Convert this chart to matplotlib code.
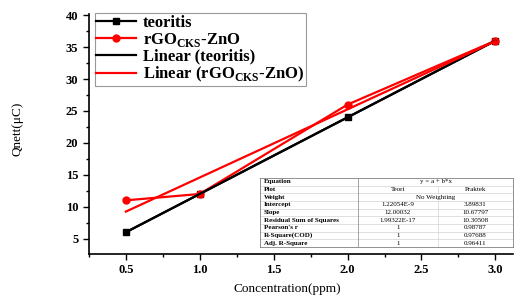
import numpy as np
import matplotlib.pyplot as plt
from matplotlib.ticker import MultipleLocator

plt.rcParams['font.family'] = ['Liberation Serif', 'DejaVu Serif']
plt.rcParams['mathtext.fontset'] = 'custom'
plt.rcParams['mathtext.rm'] = 'Liberation Serif:bold'
plt.rcParams['mathtext.bf'] = 'Liberation Serif:bold'

conc = np.array([0.5, 1.0, 2.0, 3.0])
teori = np.array([6, 12, 24, 36])
praktek = np.array([11, 12, 26, 36])

rows = ["Equation", "Plot", "Weight", "Intercept", "Slope",
        "Residual Sum of Squares", "Pearson's r", "R-Square(COD)", "Adj. R-Square"]
col_teori = ["1.22054E-9", "12.00032", "1.99322E-17", "1", "1", "1"]
col_praktek = ["3.89831", "10.67797", "10.30508", "0.98787", "0.97688", "0.96411"]

fig = plt.figure(figsize=(5.29, 3.02), dpi=100)
ax = fig.add_axes([0.168, 0.159, 0.802, 0.795])

# linear fits
b1, a1 = np.polyfit(conc, teori, 1)
b2, a2 = np.polyfit(conc, praktek, 1)
xf = np.array([conc.min(), conc.max()])

ax.plot(conc, teori, '-s', color='black', lw=1.6, ms=4.5, label='teoritis')
ax.plot(conc, praktek, '-o', color='red', lw=1.6, ms=5, label=r'rGO$_{\mathbf{CKS}}$-ZnO')
ax.plot(xf, a1 + b1 * xf, '-', color='black', lw=1.6, label='Linear (teoritis)')
ax.plot(xf, a2 + b2 * xf, '-', color='red', lw=1.6, label=r'Linear (rGO$_{\mathbf{CKS}}$-ZnO)')

ax.set_xlim(0.25, 3.12)
ax.set_ylim(2.6, 40.2)
ax.xaxis.set_major_locator(MultipleLocator(0.5))
ax.xaxis.set_minor_locator(MultipleLocator(0.25))
ax.yaxis.set_minor_locator(MultipleLocator(2.5))
ax.set_yticks([5, 10, 15, 20, 25, 30, 35, 40])
ax.spines['top'].set_visible(False)
ax.spines['right'].set_visible(False)
for s in ['left', 'bottom']:
    ax.spines[s].set_linewidth(1.2)
ax.tick_params(which='both', direction='out', width=1, labelsize=9)
ax.tick_params(which='major', length=4)
ax.tick_params(which='minor', length=2)
for lab in ax.get_xticklabels() + ax.get_yticklabels():
    lab.set_fontweight('bold')

ax.set_xlabel('Concentration(ppm)', fontsize=9.5)
ax.xaxis.set_label_coords(0.467, -0.12)
ax.set_ylabel('Qnett(μC)', fontsize=9.5)
ax.yaxis.set_label_coords(-0.155, 0.52)

leg = ax.legend(loc='upper left', bbox_to_anchor=(0.01, 1.01), fancybox=False,
                edgecolor='gray', prop={'weight': 'bold', 'size': 12},
                handlelength=2.4, labelspacing=0.0, borderpad=0.1,
                handletextpad=0.4, borderaxespad=0.1)
leg.get_frame().set_linewidth(0.8)

# fit result table
tab = fig.add_axes([260 / 529, 1 - 247 / 302, 253 / 529, 69 / 302])
tab.set_xlim(0, 1)
tab.set_ylim(0, 9)
tab.invert_yaxis()
tab.set_xticks([])
tab.set_yticks([])
for s in tab.spines.values():
    s.set_color('gray')
    s.set_linewidth(0.6)
c1, c2 = 98 / 253, 178 / 253
for i in range(1, 9):
    tab.axhline(i, color='lightgray', lw=0.5)
tab.plot([c1, c1], [0, 9], color='gray', lw=0.5)
tab.plot([c2, c2], [1, 2], color='lightgray', lw=0.5)
tab.plot([c2, c2], [3, 9], color='lightgray', lw=0.5)
fs = 5
for i, r in enumerate(rows):
    tab.text(0.015, i + 0.5, r, fontsize=fs, va='center', ha='left', fontweight='bold')
tab.text((c1 + 1) / 2, 0.5, 'y = a + b*x', fontsize=fs, va='center', ha='center')
tab.text((c1 + c2) / 2, 1.5, 'Teori', fontsize=fs, va='center', ha='center')
tab.text((c2 + 1) / 2, 1.5, 'Praktek', fontsize=fs, va='center', ha='center')
tab.text((c1 + 1) / 2, 2.5, 'No Weighting', fontsize=fs, va='center', ha='center')
for i, (t, p) in enumerate(zip(col_teori, col_praktek)):
    tab.text((c1 + c2) / 2, i + 3.5, t, fontsize=fs, va='center', ha='center')
    tab.text((c2 + 1) / 2, i + 3.5, p, fontsize=fs, va='center', ha='center')

fig.savefig('out.png', dpi=100)
